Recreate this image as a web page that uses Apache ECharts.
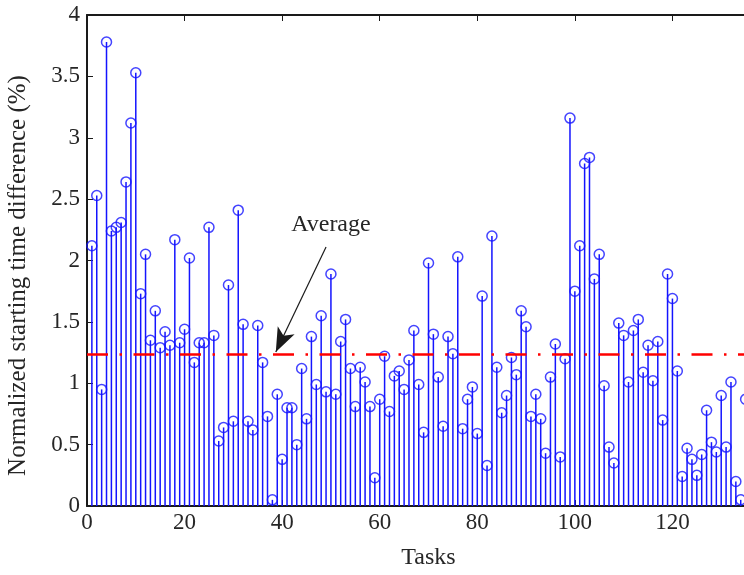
<!DOCTYPE html>
<html>
<head>
<meta charset="utf-8">
<script src="https://cdn.jsdelivr.net/npm/echarts@6/dist/echarts.min.js"></script>
<style>
  html, body { margin: 0; padding: 0; background: #fff; }
  #chart { width: 744px; height: 575px; }
</style>
</head>
<body>
<div id="chart"></div>
<script>
// normalized starting time difference (%) per task
const tasks1to45 = [2.12, 2.53, 0.95, 3.78, 2.24, 2.27, 2.31, 2.64, 3.12, 3.53,
  1.73, 2.05, 1.35, 1.59, 1.29, 1.42, 1.31, 2.17, 1.33, 1.44,
  2.02, 1.17, 1.33, 1.33, 2.27, 1.39, 0.53, 0.64, 1.80, 0.69,
  2.41, 1.48, 0.69, 0.62, 1.47, 1.17, 0.73, 0.05, 0.91, 0.38,
  0.80, 0.80, 0.50, 1.12, 0.71];
const tasks46to90 = [1.38, 0.99, 1.55, 0.93, 1.89, 0.91, 1.34, 1.52, 1.12, 0.81,
  1.13, 1.01, 0.81, 0.23, 0.87, 1.22, 0.77, 1.06, 1.10, 0.95,
  1.19, 1.43, 0.99, 0.60, 1.98, 1.40, 1.05, 0.65, 1.38, 1.24,
  2.03, 0.63, 0.87, 0.97, 0.59, 1.71, 0.33, 2.20, 1.13, 0.76,
  0.90, 1.21, 1.07, 1.59, 1.46];
const tasks91to135 = [0.73, 0.91, 0.71, 0.43, 1.05, 1.32, 0.40, 1.20, 3.16, 1.75,
  2.12, 2.79, 2.84, 1.85, 2.05, 0.98, 0.48, 0.35, 1.49, 1.39,
  1.01, 1.43, 1.52, 1.09, 1.31, 1.02, 1.34, 0.70, 1.89, 1.69,
  1.10, 0.24, 0.47, 0.38, 0.25, 0.42, 0.78, 0.52, 0.44, 0.90,
  0.48, 1.01, 0.20, 0.05, 0.87];
const avgValue = 1.24;
const xTicks = [0, 20, 40, 60, 80, 100, 120, 140];
const yTicks = [0, 0.5, 1, 1.5, 2, 2.5, 3, 3.5, 4];

const values = tasks1to45.concat(tasks46to90, tasks91to135);
const points = values.map(function (v, i) { return [i + 1, v]; });

const font = 'Liberation Serif';
const blue = '#1414ff';

let myChart = echarts.init(document.getElementById('chart'));
myChart.setOption({
  animation: false,
  backgroundColor: '#fff',
  grid: { left: 87, top: 15, right: -26, bottom: 69, outerBoundsMode: 'none', containLabel: false },
  xAxis: [{
    type: 'value',
    min: xTicks[0],
    max: xTicks[xTicks.length - 1],
    interval: 20,
    name: 'Tasks',
    nameLocation: 'middle',
    nameGap: 40,
    nameTextStyle: { fontFamily: font, fontSize: 24, color: '#262626' },
    axisLine: { show: true, lineStyle: { color: '#1a1a1a', width: 2 } },
    axisTick: { show: true, inside: true, length: 6, lineStyle: { color: '#1a1a1a' } },
    axisLabel: { fontFamily: font, fontSize: 23, color: '#262626', margin: 5 },
    splitLine: { show: false }
  }, {
    type: 'value',
    position: 'top',
    min: xTicks[0],
    max: xTicks[xTicks.length - 1],
    interval: 20,
    axisLine: { show: true, lineStyle: { color: '#1a1a1a', width: 2 } },
    axisTick: { show: true, inside: true, length: 6, lineStyle: { color: '#1a1a1a' } },
    axisLabel: { show: false },
    splitLine: { show: false }
  }],
  yAxis: {
    type: 'value',
    min: yTicks[0],
    max: yTicks[yTicks.length - 1],
    interval: 0.5,
    name: 'Normalized starting time difference (%)',
    nameLocation: 'middle',
    nameRotate: 90,
    nameGap: 56,
    nameTextStyle: { fontFamily: font, fontSize: 25, color: '#262626', padding: [0, 30, 0, 0] },
    axisLine: { show: true, lineStyle: { color: '#1a1a1a', width: 2 } },
    axisTick: { show: true, inside: true, length: 6, lineStyle: { color: '#1a1a1a' } },
    axisLabel: { fontFamily: font, fontSize: 23, color: '#262626', margin: 7 },
    splitLine: { show: false }
  },
  series: [{
    // stems
    type: 'bar',
    data: points,
    barWidth: 1.5,
    itemStyle: { color: blue },
    silent: true
  }, {
    // markers
    type: 'scatter',
    data: points,
    symbol: 'circle',
    symbolSize: 10,
    itemStyle: { color: 'transparent', borderColor: blue, borderWidth: 1.5 },
    silent: true,
    z: 3,
    markLine: {
      silent: true,
      symbol: 'none',
      label: { show: false },
      data: [
        { yAxis: avgValue, lineStyle: { color: '#ff0000', width: 2.5, type: [21, 11.5, 2.5, 11.5] } },
        [
          { coord: [49.0, 2.11], symbol: 'none', lineStyle: { color: '#1a1a1a', width: 1.2, type: 'solid' } },
          { coord: [38.7, 1.255], symbol: 'arrow', symbolSize: [14, 24] }
        ]
      ]
    },
    markPoint: {
      silent: true,
      symbol: 'circle',
      symbolSize: 1,
      itemStyle: { color: 'transparent' },
      label: {
        show: true,
        position: 'inside',
        formatter: 'Average',
        fontFamily: font,
        fontSize: 24,
        color: '#262626'
      },
      data: [{ coord: [50.0, 2.29] }]
    }
  }]
});
</script>
</body>
</html>
